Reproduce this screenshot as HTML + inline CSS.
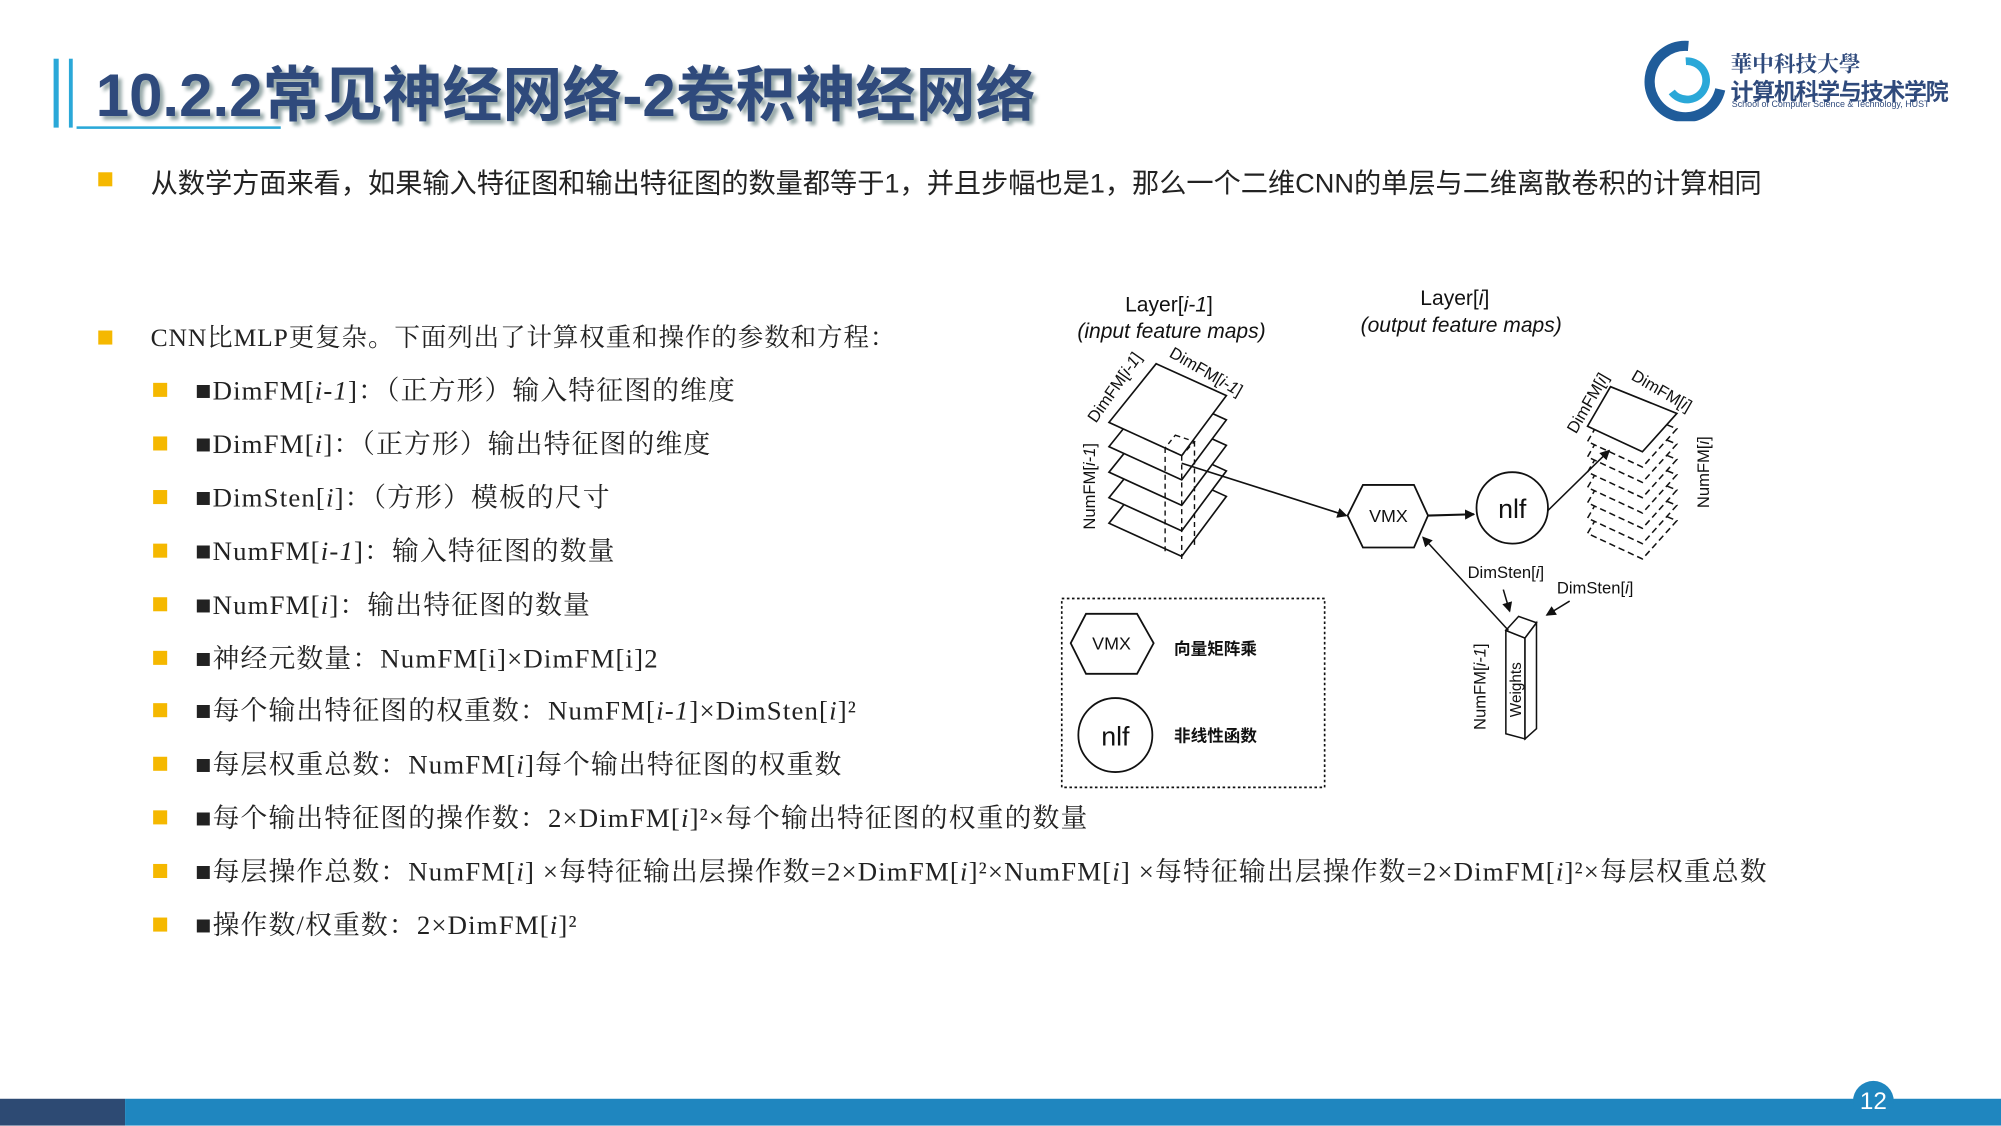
<!DOCTYPE html>
<html><head><meta charset="utf-8"><style>
html,body{margin:0;padding:0;width:2001px;height:1125px;overflow:hidden;background:#fff}
#w{position:absolute;left:0;top:0;width:1568px;height:882px;transform:scale(1.27615);transform-origin:0 0;font-family:"Liberation Sans","Noto Sans CJK SC",sans-serif;color:#222}
.t{position:absolute;white-space:nowrap}
.sq{position:absolute;width:11px;height:11px;background:#f5b800}
.sr{font-family:"Liberation Serif","Noto Serif CJK SC",serif;font-size:21px;line-height:24px;letter-spacing:0.9px}
</style></head><body><div id="w">
<div style="position:absolute;left:42px;top:46px;width:4px;height:54px;background:#2aa8d8"></div>
<div style="position:absolute;left:54px;top:46px;width:3px;height:54px;background:#2aa8d8"></div>
<div style="position:absolute;left:60px;top:99px;width:160px;height:2px;background:#2aa8d8"></div>
<div class="t" style="left:75px;top:36px;font-size:47px;font-weight:bold;color:#2f4a7c;text-shadow:3px 3px 3px #9aa">10.2.2常见神经网络-2卷积神经网络</div>
<svg style="position:absolute;left:1288px;top:30px" width="70" height="65"><path d="M35 6 A28 28 0 1 0 60 40" fill="none" stroke="#1f5c9a" stroke-width="8"/><path d="M33 18 A15 15 0 1 1 22 42" fill="none" stroke="#2aa8d8" stroke-width="6"/></svg>
<div class="t" style="left:1356px;top:36px;font-size:17px;font-weight:bold;color:#2f4a7c;font-family:'Noto Serif CJK SC',serif">華中科技大學</div>
<div class="t" style="left:1356px;top:58px;font-size:18px;font-weight:bold;color:#2f4a7c;letter-spacing:-1px">计算机科学与技术学院</div>
<div class="t" style="left:1357px;top:79px;font-size:7px;color:#2f4a7c">School of Computer Science &amp; Technology, HUST</div>

<div class="sq" style="left:77px;top:135px"></div>
<div class="t" style="left:118px;top:127px;font-size:21.3px">从数学方面来看，如果输入特征图和输出特征图的数量都等于1，并且步幅也是1，那么一个二维CNN的单层与二维离散卷积的计算相同</div>
<div class="sq" style="left:77px;top:259px"></div>
<div class="t sr" style="left:118px;top:253px;font-size:20px;letter-spacing:0.7px">CNN比MLP更复杂。下面列出了计算权重和操作的参数和方程：</div>

<div class="sq" style="left:120px;top:300px"></div><div class="t sr" style="left:153px;top:294px">■DimFM[<i>i</i>-<i>1</i>]：（正方形）输入特征图的维度</div>
<div class="sq" style="left:120px;top:342px"></div><div class="t sr" style="left:153px;top:336px">■DimFM[<i>i</i>]：（正方形）输出特征图的维度</div>
<div class="sq" style="left:120px;top:384px"></div><div class="t sr" style="left:153px;top:378px">■DimSten[<i>i</i>]：（方形）模板的尺寸</div>
<div class="sq" style="left:120px;top:426px"></div><div class="t sr" style="left:153px;top:420px">■NumFM[<i>i</i>-<i>1</i>]：输入特征图的数量</div>
<div class="sq" style="left:120px;top:468px"></div><div class="t sr" style="left:153px;top:462px">■NumFM[<i>i</i>]：输出特征图的数量</div>
<div class="sq" style="left:120px;top:510px"></div><div class="t sr" style="left:153px;top:504px">■神经元数量：NumFM[i]×DimFM[i]2</div>
<div class="sq" style="left:120px;top:551px"></div><div class="t sr" style="left:153px;top:545px">■每个输出特征图的权重数：NumFM[<i>i</i>-<i>1</i>]×DimSten[<i>i</i>]²</div>
<div class="sq" style="left:120px;top:593px"></div><div class="t sr" style="left:153px;top:587px">■每层权重总数：NumFM[<i>i</i>]每个输出特征图的权重数</div>
<div class="sq" style="left:120px;top:635px"></div><div class="t sr" style="left:153px;top:629px">■每个输出特征图的操作数：2×DimFM[<i>i</i>]²×每个输出特征图的权重的数量</div>
<div class="sq" style="left:120px;top:677px"></div><div class="t sr" style="left:153px;top:671px">■每层操作总数：NumFM[<i>i</i>] ×每特征输出层操作数=2×DimFM[<i>i</i>]²×NumFM[<i>i</i>] ×每特征输出层操作数=2×DimFM[<i>i</i>]²×每层权重总数</div>
<div class="sq" style="left:120px;top:719px"></div><div class="t sr" style="left:153px;top:713px">■操作数/权重数：2×DimFM[<i>i</i>]²</div>

<svg style="position:absolute;left:0;top:0" width="1568" height="882" font-family="Liberation Sans, Noto Sans CJK SC, sans-serif">
<defs><marker id="a" markerWidth="8" markerHeight="8" refX="7" refY="4" orient="auto" markerUnits="userSpaceOnUse"><path d="M0,0 L8,4 L0,8 z" fill="#111"/></marker></defs>
<g fill="#111" font-size="16.5">
<text x="916" y="244" text-anchor="middle">Layer[<tspan font-style="italic">i-1</tspan>]</text>
<text x="918" y="265" text-anchor="middle" font-style="italic">(input feature maps)</text>
<text x="1140" y="239" text-anchor="middle">Layer[<tspan font-style="italic">i</tspan>]</text>
<text x="1145" y="260" text-anchor="middle" font-style="italic">(output feature maps)</text>
</g>
<g stroke="#111" stroke-width="1.3" fill="#fff">
<path d="M906,364 L961,389 L926,436 L869,410 Z"/>
<path d="M906,344 L961,369 L926,416 L869,390 Z"/>
<path d="M906,324 L961,349 L926,396 L869,370 Z"/>
<path d="M906,304 L961,329 L926,376 L869,350 Z"/>
<path d="M906,285 L961,310 L926,357 L869,331 Z"/>
</g>
<g stroke="#111" stroke-width="1.1" fill="none" stroke-dasharray="4,3">
<path d="M921,341 L936,346 L926,357 L913,351 Z"/>
<line x1="913" y1="351" x2="913" y2="432"/><line x1="926" y1="357" x2="926" y2="440"/><line x1="936" y1="346" x2="936" y2="428"/>
</g>
<line x1="926" y1="363" x2="1055" y2="404" stroke="#111" stroke-width="1.3" marker-end="url(#a)"/>
<path d="M1056,404 L1068,380 L1108,380 L1119,404 L1108,429 L1068,429 Z" fill="#fff" stroke="#111" stroke-width="1.4"/>
<text x="1088" y="409" text-anchor="middle" font-size="14" fill="#111">VMX</text>
<line x1="1119" y1="404" x2="1155" y2="403" stroke="#111" stroke-width="1.6" marker-end="url(#a)"/>
<circle cx="1185" cy="398" r="28" fill="#fff" stroke="#111" stroke-width="1.4"/>
<text x="1185" y="406" text-anchor="middle" font-size="21" fill="#111">nlf</text>
<g stroke="#111" stroke-width="1.2" fill="#fff" stroke-dasharray="5,3">
<path d="M1262,387 L1314,408 L1287,438 L1244,418 Z"/>
<path d="M1262,375 L1314,396 L1287,426 L1244,406 Z"/>
<path d="M1262,363 L1314,384 L1287,414 L1244,394 Z"/>
<path d="M1262,351 L1314,372 L1287,402 L1244,382 Z"/>
<path d="M1262,339 L1314,360 L1287,390 L1244,370 Z"/>
<path d="M1262,327 L1314,348 L1287,378 L1244,358 Z"/>
<path d="M1262,315 L1314,336 L1287,366 L1244,346 Z"/>
</g>
<path d="M1262,303 L1314,324 L1287,354 L1244,334 Z" fill="#fff" stroke="#111" stroke-width="1.3"/>
<line x1="1213" y1="400" x2="1261" y2="353" stroke="#111" stroke-width="1.2" marker-end="url(#a)"/>
<g stroke="#111" stroke-width="1.2" fill="#fff">
<path d="M1180,494 L1195,500 L1195,579 L1180,575 Z"/>
<path d="M1180,494 L1190,483 L1204,488 L1195,500 Z"/>
<path d="M1195,500 L1204,488 L1204,571 L1195,579 Z"/>
</g>
<line x1="1182" y1="494" x2="1115" y2="421" stroke="#111" stroke-width="1.2" marker-end="url(#a)"/>
<line x1="1178" y1="462" x2="1183" y2="479" stroke="#111" stroke-width="1.2" marker-end="url(#a)"/>
<line x1="1230" y1="471" x2="1212" y2="482" stroke="#111" stroke-width="1.2" marker-end="url(#a)"/>
<g font-size="13" fill="#111">
<text transform="translate(877,306) rotate(-55)" text-anchor="middle">DimFM[<tspan font-style="italic">i-1</tspan>]</text>
<text transform="translate(943,295) rotate(30)" text-anchor="middle">DimFM[<tspan font-style="italic">i-1</tspan>]</text>
<text transform="translate(858,415) rotate(-90)">NumFM[<tspan font-style="italic">i-1</tspan>]</text>
<text transform="translate(1248,318) rotate(-60)" text-anchor="middle">DimFM[<tspan font-style="italic">i</tspan>]</text>
<text transform="translate(1300,310) rotate(30)" text-anchor="middle">DimFM[<tspan font-style="italic">i</tspan>]</text>
<text transform="translate(1339,370) rotate(-90)" text-anchor="middle">NumFM[<tspan font-style="italic">i</tspan>]</text>
<text transform="translate(1164,572) rotate(-90)">NumFM[<tspan font-style="italic">i-1</tspan>]</text>
<text transform="translate(1192,562) rotate(-90)" font-size="12">Weights</text>
<text x="1150" y="453">DimSten[<tspan font-style="italic">i</tspan>]</text>
<text x="1220" y="465">DimSten[<tspan font-style="italic">i</tspan>]</text>
</g>
<rect x="832" y="469" width="206" height="148" fill="none" stroke="#111" stroke-width="1.3" stroke-dasharray="2,2"/>
<path d="M839,504 L851,481 L891,481 L904,504 L891,528 L851,528 Z" fill="#fff" stroke="#111" stroke-width="1.4"/>
<text x="871" y="509" text-anchor="middle" font-size="14" fill="#111">VMX</text>
<text x="920" y="513" font-size="13" font-weight="bold" fill="#111">向量矩阵乘</text>
<circle cx="874" cy="576" r="29" fill="#fff" stroke="#111" stroke-width="1.4"/>
<text x="874" y="584" text-anchor="middle" font-size="21" fill="#111">nlf</text>
<text x="920" y="581" font-size="13" font-weight="bold" fill="#111">非线性函数</text>
</svg>

<div style="position:absolute;left:0;top:861px;width:98px;height:21px;background:#2d4a73"></div>
<div style="position:absolute;left:98px;top:861px;width:1470px;height:21px;background:#1f86bf"></div>
<div style="position:absolute;left:1452px;top:847px;width:32px;height:32px;border-radius:50%;background:#1f86bf"></div>
<div class="t" style="left:1452px;top:853px;width:32px;text-align:center;color:#fff;font-size:19px">12</div>
</div></body></html>
